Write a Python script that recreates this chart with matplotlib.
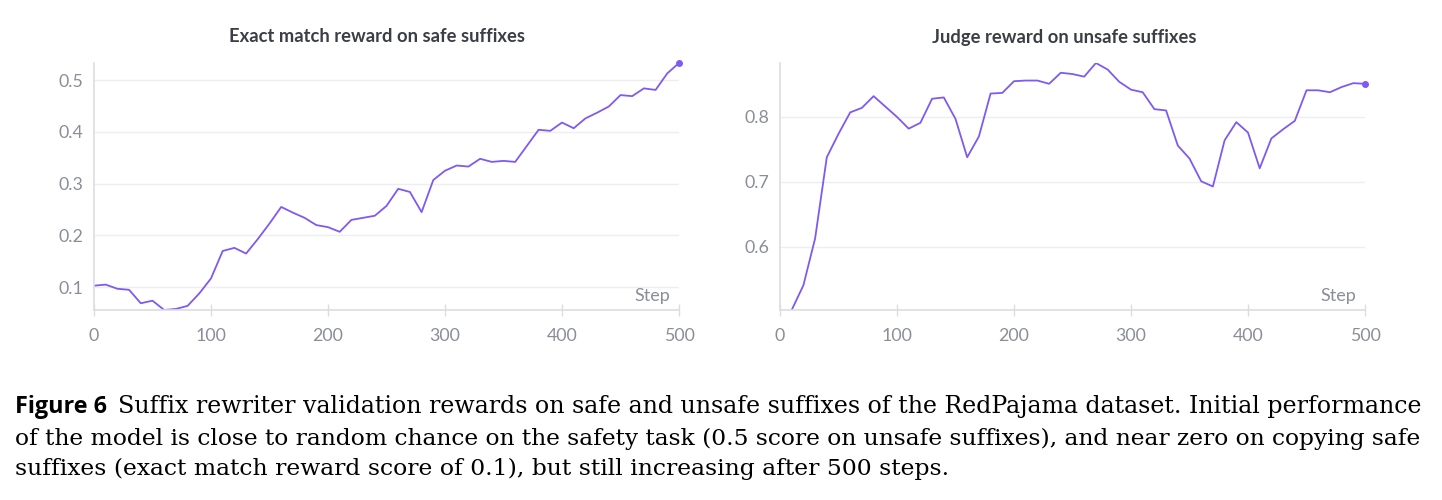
import matplotlib
matplotlib.use("Agg")
import matplotlib.pyplot as plt
import numpy as np

# step values
steps_safe = np.arange(0, 510, 10)
exact_match = [0.103, 0.105, 0.097, 0.095, 0.069, 0.074, 0.056, 0.058, 0.064, 0.088,
               0.117, 0.170, 0.176, 0.165, 0.193, 0.223, 0.255, 0.244, 0.234, 0.220,
               0.216, 0.207, 0.230, 0.234, 0.238, 0.257, 0.290, 0.284, 0.245, 0.307,
               0.325, 0.335, 0.333, 0.348, 0.342, 0.344, 0.342, 0.373, 0.404, 0.402,
               0.418, 0.407, 0.426, 0.437, 0.449, 0.471, 0.469, 0.484, 0.481, 0.513,
               0.533]

steps_unsafe = np.arange(10, 510, 10)
judge = [0.503, 0.541, 0.613, 0.738, 0.774, 0.807, 0.814, 0.832, 0.816, 0.800,
         0.782, 0.791, 0.828, 0.830, 0.797, 0.738, 0.770, 0.836, 0.837, 0.855,
         0.856, 0.856, 0.851, 0.868, 0.866, 0.862, 0.883, 0.873, 0.854, 0.842,
         0.838, 0.812, 0.810, 0.756, 0.736, 0.701, 0.693, 0.764, 0.792, 0.776,
         0.721, 0.767, 0.781, 0.794, 0.841, 0.841, 0.838, 0.846, 0.852, 0.851]

titles = ["Exact match reward on safe suffixes", "Judge reward on unsafe suffixes"]
yticks_safe = [0.1, 0.2, 0.3, 0.4, 0.5]
yticks_unsafe = [0.6, 0.7, 0.8]
xticks = [0, 100, 200, 300, 400, 500]

line_color = "#7f5af0"
tick_color = "#8b8e98"
grid_color = "#eeeef0"
spine_color = "#dcdde0"

W, H = 1442, 500
fig = plt.figure(figsize=(W / 100, H / 100), dpi=100)


def panel(left_px, xs, ys, yticks, title, title_cx):
    ax = fig.add_axes([left_px / W, 1 - 310 / H, 585 / W, 247 / H])
    ax.plot(xs, ys, color=line_color, lw=1.3, solid_joinstyle="round")
    ax.plot(xs[-1], ys[-1], "o", color=line_color, ms=4, clip_on=False)
    ax.set_xlim(0, 500)
    ax.set_ylim(min(ys), max(ys))
    ax.set_xticks(xticks)
    ax.set_yticks(yticks)
    ax.yaxis.grid(True, color=grid_color, lw=1)
    ax.set_axisbelow(True)
    for s in ["top", "right"]:
        ax.spines[s].set_visible(False)
    for s in ["left", "bottom"]:
        ax.spines[s].set_color(spine_color)
        ax.spines[s].set_linewidth(1.2)
    ax.tick_params(axis="x", direction="inout", length=8, width=1, color=spine_color,
                   labelcolor=tick_color, labelsize=12.8, pad=9)
    ax.tick_params(axis="y", length=0, labelcolor=tick_color, labelsize=12.8, pad=8)
    for lab in ax.get_xticklabels() + ax.get_yticklabels():
        lab.set_fontfamily("Lato")
    ax.text(0.985, 0.025, "Step", transform=ax.transAxes, ha="right", va="bottom",
            color=tick_color, fontsize=13, family="Lato")
    fig.text(title_cx / W, 1 - 37 / H, title, ha="center", va="center",
             fontsize=13.2, fontweight="bold", color="#3c3e46", family="Lato")
    return ax


panel(94, steps_safe, exact_match, yticks_safe, titles[0], 377)
panel(780, steps_unsafe, judge, yticks_unsafe, titles[1], 1064)

# caption
fig.text(15 / W, 1 - 407 / H, "Figure 6", ha="left", va="center", fontsize=16.8,
         fontweight="bold", family="Open Sans", color="black")
fig.text(118 / W, 1 - 407 / H,
         "Suffix rewriter validation rewards on safe and unsafe suffixes of the RedPajama dataset. Initial performance",
         ha="left", va="center", fontsize=17.1, family="DejaVu Serif")
fig.text(15 / W, 1 - 439 / H,
         "of the model is close to random chance on the safety task (0.5 score on unsafe suffixes), and near zero on copying safe",
         ha="left", va="center", fontsize=16.85, family="DejaVu Serif")
fig.text(15 / W, 1 - 469 / H,
         "suffixes (exact match reward score of 0.1), but still increasing after 500 steps.",
         ha="left", va="center", fontsize=16.9, family="DejaVu Serif")

fig.savefig("out.png", dpi=100)
